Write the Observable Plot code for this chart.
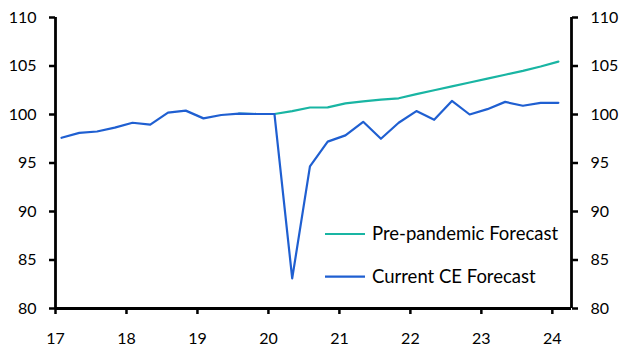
<!DOCTYPE html>
<html>
<head>
<meta charset="utf-8">
<script src="https://cdn.jsdelivr.net/npm/d3@7"></script>
<script src="https://cdn.jsdelivr.net/npm/@observablehq/plot@0.6"></script>
<style>
  html, body { margin: 0; padding: 0; background: #fff; }
  #chart { position: relative; width: 632px; height: 357px; }
</style>
</head>
<body>
<div id="chart"></div>
<script>
// Quarters (year, quarter)
const quarters = [
  "2017Q1","2017Q2","2017Q3","2017Q4",
  "2018Q1","2018Q2","2018Q3","2018Q4",
  "2019Q1","2019Q2","2019Q3","2019Q4",
  "2020Q1","2020Q2","2020Q3","2020Q4",
  "2021Q1","2021Q2","2021Q3","2021Q4",
  "2022Q1","2022Q2","2022Q3","2022Q4",
  "2023Q1","2023Q2","2023Q3","2023Q4",
  "2024Q1"
];
// Current CE Forecast
const currentValues = [
  97.6, 98.1, 98.25, 98.65,
  99.15, 98.95, 100.2, 100.4,
  99.6, 99.95, 100.1, 100.05,
  100.05, 83.1, 94.65, 97.2,
  97.85, 99.25, 97.5, 99.15,
  100.35, 99.45, 101.4, 100.0,
  100.55, 101.3, 100.9, 101.2,
  101.2
];
// Pre-pandemic Forecast (starts 2019Q3)
const preStart = 10;
const preValues = [
  100.1, 100.05,
  100.05, 100.35, 100.72, 100.74,
  101.15, 101.35, 101.53, 101.67,
  102.1, 102.5, 102.9, 103.3,
  103.7, 104.1, 104.5, 104.95,
  105.45
];
const seriesNames = ["Pre-pandemic Forecast", "Current CE Forecast"];
const seriesColors = ["#19b5a3", "#1f5fd1"];
const xTicks = [17, 18, 19, 20, 21, 22, 23, 24];
const yTicks = [80, 85, 90, 95, 100, 105, 110];
const xDomain = [17, 24.27];
const yDomain = [80, 110];

const qx = q => (+q.slice(2, 4)) + (+q.slice(5) - 1) / 4 + 0.085;
const current = quarters.map((q, i) => ({x: qx(q), y: currentValues[i]}));
const pre = preValues.map((v, i) => ({x: qx(quarters[preStart + i]), y: v}));

const font = "Lato, 'Open Sans', sans-serif";

const plot = Plot.plot({
  width: 632,
  height: 357,
  marginLeft: 55,
  marginRight: 61,
  marginTop: 17,
  marginBottom: 49,
  style: {fontFamily: font, fontSize: "16px", color: "#000", background: "#fff"},
  x: {domain: xDomain, ticks: xTicks, tickFormat: d => String(d)},
  y: {domain: yDomain, ticks: yTicks},
  marks: [
    Plot.axisX({ticks: xTicks, tickSize: 6, tickPadding: 18, strokeWidth: 2.5, label: null, fontSize: 16}),
    Plot.axisY({anchor: "left", ticks: yTicks, tickSize: 6, tickPadding: 13, strokeWidth: 2.5, label: null, fontSize: 16}),
    Plot.axisY({anchor: "right", ticks: yTicks, tickSize: 6, tickPadding: 13, strokeWidth: 2.5, label: null, fontSize: 16}),
    Plot.line(pre, {x: "x", y: "y", stroke: seriesColors[0], strokeWidth: 2.2}),
    Plot.line(current, {x: "x", y: "y", stroke: seriesColors[1], strokeWidth: 2.2}),
    Plot.ruleY([yDomain[0]], {stroke: "#000", strokeWidth: 2.8}),
    Plot.ruleX([xDomain[0], xDomain[1]], {stroke: "#000", strokeWidth: 2.8})
  ]
});
document.getElementById("chart").appendChild(plot);

// Legend drawn into the svg
const svg = d3.select(plot);
const lg = svg.append("g").attr("font-family", font).attr("font-size", 18.5).attr("text-anchor", "start");
seriesNames.forEach((name, i) => {
  const y = 234 + i * 42.7;
  lg.append("line").attr("x1", 325).attr("x2", 365).attr("y1", y).attr("y2", y)
    .attr("stroke", seriesColors[i]).attr("stroke-width", 2.2);
  lg.append("text").attr("x", 372).attr("y", y).attr("dy", "0.35em")
    .attr("fill", "#000").attr("text-anchor", "start").text(name);
});
</script>
</body>
</html>
